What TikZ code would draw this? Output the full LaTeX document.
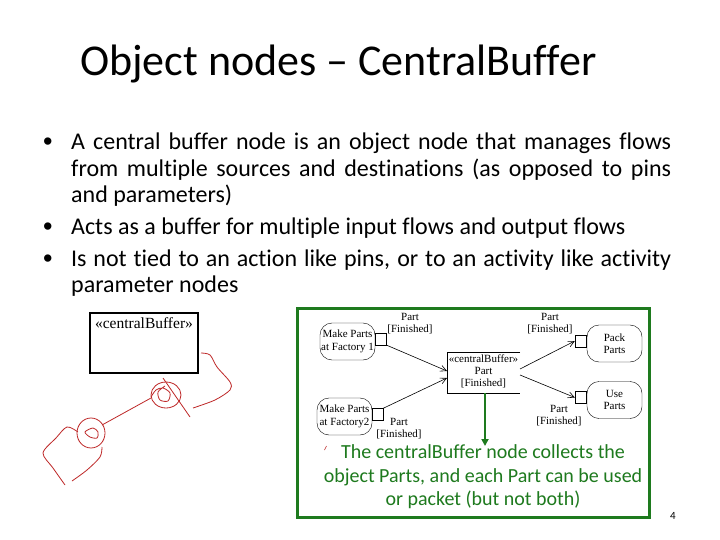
\documentclass[tikz,border=0pt]{standalone}
\usepackage{fontspec}
\setmainfont{Carlito}[Ligatures={NoCommon}]
\newfontfamily\tms{Liberation Serif}[Ligatures={NoCommon}]
\newfontfamily\blt{Liberation Sans}
\usetikzlibrary{arrows.meta}
\definecolor{grn}{RGB}{30,122,30}
\definecolor{scrib}{RGB}{190,40,40}
\begin{document}
\begin{tikzpicture}[x=1pt,y=-1pt,
 txt/.style={inner sep=0pt, anchor=base west, font=\fontsize{24}{26}\selectfont},
 dot/.style={inner sep=0pt, anchor=base west, font=\blt\fontsize{27}{28}\selectfont},
 act/.style={draw, rounded corners=12pt, minimum width=55pt, minimum height=37pt, inner sep=0pt, align=center, font=\tms\fontsize{11}{12.5}\selectfont},
 pinbox/.style={draw, minimum width=11pt, minimum height=12pt, inner sep=0pt},
 lbl/.style={font=\tms\fontsize{11}{12}\selectfont, align=center, inner sep=0pt},
 flow/.style={-{Straight Barb[length=6pt,width=6pt]}, semithick},
 gtxt/.style={inner sep=0pt, anchor=base, text=grn, font=\fontsize{20}{23}\selectfont},
 scr/.style={draw=scrib, line width=0.8pt},
]
\useasboundingbox (0,0) rectangle (720,540);
\fill[white] (0,0) rectangle (720,540);

% title
\node[anchor=base west, inner sep=0pt, font=\fontsize{44}{48}\selectfont] (title) at (80,76) {Object nodes – CentralBuffer};

% bullets
\node[dot] (d1) at (43,151) {•};
\node[txt] (t1a) at (71,150) {\makebox[600pt][s]{A central buffer node is an object node that manages flows}};
\node[txt] (t1b) at (71,176.5) {\makebox[600pt][s]{from multiple sources and destinations (as opposed to pins}};
\node[txt] (t1c) at (71,203) {and parameters)};
\node[dot] (d2) at (43,236) {•};
\node[txt] (t2a) at (71,235) {Acts as a buffer for multiple input flows and output flows};
\node[dot] (d3) at (43,267) {•};
\node[txt] (t3a) at (71,266) {\makebox[600pt][s]{Is not tied to an action like pins, or to an activity like activity}};
\node[txt] (t3b) at (71,292.5) {parameter nodes};

% left box
\node[draw, line width=1.5pt, minimum width=108pt, minimum height=60pt, inner sep=0pt] (cbox) at (144,343) {};
\node[inner sep=0pt, font=\tms\fontsize{15.5}{16}\selectfont] (cboxt) at (144,323) {«centralBuffer»};

% scribbles
\draw[scr] plot[smooth] coordinates {(201,353) (210,355) (217,367) (230,382) (230,390) (215,400) (193,408)};
\draw[scr] (166,395) ellipse [x radius=15pt, y radius=13pt];
\draw[scr] plot[smooth] coordinates {(151,397) (156,390) (163,388) (170,393) (168,401) (160,400) (158,392) (165,386)};
\draw[scr] (163,378) -- (190,417);
\draw[scr] (151,398) -- (102,425);
\draw[scr] (91,433) ellipse [x radius=14pt, y radius=15pt];
\draw[scr] plot[smooth cycle] coordinates {(85,432) (93,428) (98,432) (97,438) (90,437)};
\draw[scr] plot[smooth] coordinates {(78,432) (67,427) (56,438) (43,453) (53,468) (65,485)};
\draw[scr] plot[smooth] coordinates {(72,481) (87,470) (100,457) (102,447)};

% green frame
\draw[grn, line width=3pt] (297,308) rectangle (649,517);

% diagram
\node[act] (f1) at (347.5,341.5) {Make Parts\\at Factory 1};
\node[pinbox] (p1) at (381,339) {};
\node[act] (f2) at (344.5,416.5) {Make Parts\\at Factory2};
\node[pinbox] (p2) at (377.5,414.5) {};
\node[minimum width=73pt, minimum height=41pt, inner sep=0pt] (cb) at (483.5,372.5) {};
\draw (cb.north east) -- (cb.north west) -- (cb.south west) -- (cb.south east);
\node[lbl] (cbt) at (483.5,371.5) {«centralBuffer»\\Part\\{}[Finished]};
\node[act] (pack) at (614.5,343.5) {Pack\\Parts};
\node[pinbox] (p3) at (580.5,341) {};
\node[act] (use) at (614.5,400) {Use\\Parts};
\node[pinbox] (p4) at (580.5,397.5) {};

\node[lbl] (l1) at (410,324) {Part\\{}[Finished]};
\node[lbl] (l2) at (399,429) {Part\\{}[Finished]};
\node[lbl] (l3) at (550,324) {Part\\{}[Finished]};
\node[lbl] (l4) at (559,416) {Part\\{}[Finished]};

\coordinate (i1) at (447,371);
\coordinate (i2) at (447,378);
\coordinate (o1) at (520,369);
\coordinate (o2) at (520,375);
\draw[flow] (p1.south east) -- (i1);
\draw[flow] (p2.north east) -- (i2);
\draw[flow] (o1) -- (p3.west);
\draw[flow] (o2) -- (p4.west);

\coordinate (g0) at (485,393);
\coordinate (g1) at (485,446);
\draw[grn, line width=2pt, -{Triangle[length=7pt,width=7pt]}] (g0) -- (g1);

\draw[scrib, line width=0.6pt] (324.5,450) -- (326.5,446);

\node[gtxt] (g1t) at (483,458) {The centralBuffer node collects the};
\node[gtxt] (g2t) at (483,482) {object Parts, and each Part can be used};
\node[gtxt] (g3t) at (483,505) {or packet (but not both)};

\node[anchor=base, inner sep=0pt, font=\fontsize{11}{12}\selectfont] (pg) at (673,519) {4};
\end{tikzpicture}
\end{document}
